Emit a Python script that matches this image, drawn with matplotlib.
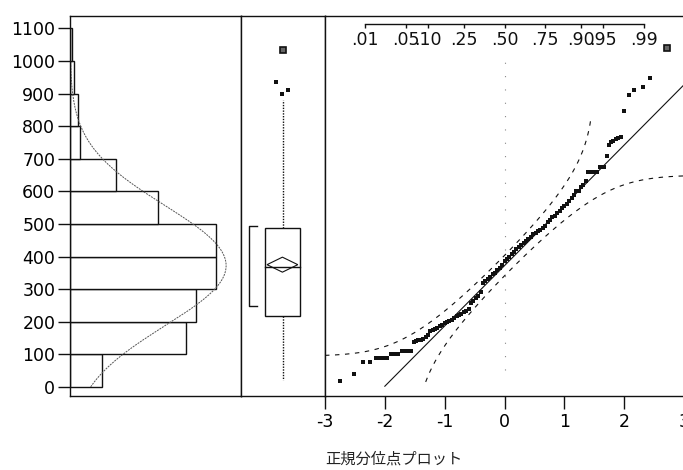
import numpy as np
import matplotlib
matplotlib.use('Agg')
import matplotlib.pyplot as plt
from matplotlib.patches import Rectangle, Polygon
from statistics import NormalDist

plt.rcParams['font.family'] = ['DejaVu Sans', 'Noto Sans CJK JP']
plt.rcParams['axes.unicode_minus'] = False

#histogram bins and counts
bin_edges = [0, 100, 200, 300, 400, 500, 600, 700, 800, 900, 1000, 1100]
bin_counts = [16, 58, 63, 73, 73, 44, 23, 5, 4, 2, 1]

#normal fit and confidence band width (probability scale)
fit_mean = 372
fit_sd = 185
band_d = 0.067

#outlier box plot summary
box_q1 = 218
box_median = 368
box_q3 = 488
whisker_low = 22
whisker_high = 880
mean_diamond = [352, 375, 398]
shortest_half = [248, 494]
box_outliers = [935, 912, 900]
box_far_outliers = [1034]

#normal quantile plot points (normal quantile, value)
qq_z = [-2.75, -2.51, -2.36, -2.25,
        -2.15, -2.11, -2.07, -2.03, -1.99, -1.96,
        -1.90, -1.86, -1.82, -1.78,
        -1.71, -1.68, -1.65, -1.62, -1.59, -1.56,
        -1.52, -1.48, -1.44, -1.40, -1.36, -1.32, -1.28, -1.24, -1.20, -1.16,
        -1.12, -1.08, -1.04, -1.00, -0.96, -0.92, -0.88, -0.84, -0.80, -0.76,
        -0.72, -0.68, -0.64, -0.60, -0.56, -0.52, -0.48, -0.44, -0.40, -0.36,
        -0.32, -0.28, -0.24, -0.20, -0.16, -0.12, -0.08, -0.04, 0.00, 0.04,
        0.08, 0.12, 0.16, 0.20, 0.24, 0.28, 0.32, 0.36, 0.40, 0.44,
        0.48, 0.52, 0.56, 0.60, 0.64, 0.68, 0.72, 0.76, 0.80, 0.84,
        0.88, 0.92, 0.96, 1.00, 1.04, 1.08, 1.12, 1.16, 1.20, 1.24,
        1.28, 1.32, 1.36,
        1.39, 1.43, 1.47, 1.51, 1.55,
        1.59, 1.63, 1.67,
        1.71,
        1.74, 1.78, 1.82, 1.86, 1.90, 1.94,
        1.99, 2.08, 2.16, 2.31, 2.44]
qq_val = [18, 40, 75, 75,
          88, 88, 88, 88, 88, 88,
          100, 100, 100, 100,
          110, 110, 110, 110, 110, 110,
          138, 141, 143, 145, 146, 152, 160, 170, 175, 178,
          182, 188, 190, 195, 198, 202, 205, 212, 216, 220,
          225, 230, 234, 238, 258, 265, 272, 280, 290, 318,
          325, 330, 338, 345, 350, 358, 365, 375, 385, 392,
          400, 408, 415, 422, 428, 435, 442, 448, 455, 460,
          468, 472, 478, 482, 488, 495, 505, 512, 520, 525,
          535, 540, 548, 555, 562, 570, 580, 590, 600, 602,
          612, 620, 632,
          660, 660, 660, 660, 660,
          675, 675, 675,
          708,
          742, 750, 755, 760, 765, 767,
          847, 896, 911, 920, 948]
qq_far_z = [2.71]
qq_far_val = [1040]

#axis ticks
value_ticks = [0, 100, 200, 300, 400, 500, 600, 700, 800, 900, 1000, 1100]
z_ticks = [-3, -2, -1, 0, 1, 2, 3]
prob_ticks = [.01, .05, .10, .25, .50, .75, .90, .95, .99]
prob_labels = ['.01', '.05', '.10', '.25', '.50', '.75', '.90', '.95', '.99']
plot_title = '正規分位点プロット'

W, H = 683, 470
ink = '#111111'


def px_box(x0, y0, x1, y1):
    #axes rectangle in figure fractions from pixel corners
    return [x0 / W, 1 - y1 / H, (x1 - x0) / W, (y1 - y0) / H]


fig = plt.figure(figsize=(W / 100, H / 100), dpi=100)
ylim = (-28, 1138)
nd = NormalDist()
fit = NormalDist(fit_mean, fit_sd)

ax_h = fig.add_axes(px_box(70, 16, 241, 396))
ax_b = fig.add_axes(px_box(241, 16, 325, 396))
ax_q = fig.add_axes(px_box(325, 16, 684, 396))
for ax in (ax_h, ax_b, ax_q):
    ax.set_ylim(*ylim)
    for s in ax.spines.values():
        s.set_color(ink)
        s.set_linewidth(1.0)

#histogram with fitted normal curve
ax_h.barh(bin_edges[:-1], bin_counts, height=100, align='edge',
          color='white', edgecolor=ink, linewidth=1.0)
n_total = sum(bin_counts)
curve_v = np.linspace(0, 1100, 300)
curve_x = [n_total * 100 * fit.pdf(v) for v in curve_v]
ax_h.plot(curve_x, curve_v, color='#555555', lw=0.7, ls=(0, (2, 1)))
ax_h.set_xlim(0, 85.5)
ax_h.set_xticks([])
ax_h.set_yticks(value_ticks)
ax_h.tick_params(axis='y', length=8.6, width=1.0, color=ink, pad=2, labelsize=12.5)

#outlier box plot
ax_b.set_xlim(0, 1)
ax_b.set_xticks([])
ax_b.set_yticks([])
ax_b.add_patch(Rectangle((0.286, box_q1), 0.414, box_q3 - box_q1,
                         fill=False, edgecolor=ink, lw=1.0))
ax_b.plot([0.286, 0.70], [box_median, box_median], color=ink, lw=1.0)
ax_b.add_patch(Polygon([(0.31, mean_diamond[1]), (0.493, mean_diamond[2]),
                        (0.676, mean_diamond[1]), (0.493, mean_diamond[0])],
                       closed=True, fill=False, edgecolor=ink, lw=0.8))
ax_b.plot([0.5, 0.5], [box_q3, whisker_high], color=ink, lw=1.0, ls=(0, (1, 1)))
ax_b.plot([0.5, 0.5], [box_q1, whisker_low], color=ink, lw=1.0, ls=(0, (1, 1)))
ax_b.plot([0.19, 0.095, 0.095, 0.19],
          [shortest_half[1], shortest_half[1], shortest_half[0], shortest_half[0]],
          color=ink, lw=1.0)
ax_b.plot([0.42, 0.56, 0.49], box_outliers, 's', ms=2.4, color=ink, mew=0)
ax_b.plot([0.5], box_far_outliers, 's', ms=5, mfc='#666666', mec=ink, mew=1.2)

#normal quantile plot
ax_q.set_xlim(-3, 3)
ax_q.set_yticks([])
ax_q.set_xticks(z_ticks)
ax_q.tick_params(axis='x', length=9, width=1.0, color=ink, pad=3, labelsize=12.5)
ax_q.spines['right'].set_visible(False)

ax_q.plot([0, 0], [52, 1009], color='#888888', lw=0.8, ls=(0, (1, 11)))

#fitted line
line_z = np.array([-2.0, 3.0])
ax_q.plot(line_z, fit_mean + fit_sd * line_z, color=ink, lw=0.8)

#confidence bands
zz = np.linspace(-3, 3, 600)
upper = []
lower = []
for z in zz:
    p = nd.cdf(z)
    upper.append(fit_mean + fit_sd * nd.inv_cdf(p + band_d) if p + band_d < 1 else np.nan)
    lower.append(fit_mean + fit_sd * nd.inv_cdf(p - band_d) if p - band_d > 0 else np.nan)
upper = np.array(upper)
lower = np.array(lower)
upper[upper > 840] = np.nan
lower[lower < 12] = np.nan
ax_q.plot(zz, upper, color=ink, lw=0.8, ls=(0, (4, 5)))
ax_q.plot(zz, lower, color=ink, lw=0.8, ls=(0, (4, 5)))

ax_q.plot(qq_z, qq_val, 's', ms=2.6, color=ink, mew=0)
ax_q.plot(qq_far_z, qq_far_val, 's', ms=5, mfc='#666666', mec=ink, mew=1.2)

#probability scale along the top
trans = ax_q.get_xaxis_transform()
prob_z = [nd.inv_cdf(p) for p in prob_ticks]
ax_q.plot([prob_z[0], prob_z[-1]], [0.979, 0.979], color=ink, lw=1.0, transform=trans)
ax_q.vlines(prob_z, 0.968, 0.979, color=ink, lw=1.0, transform=trans)
for z, lab in zip(prob_z, prob_labels):
    ax_q.text(z, 0.937, lab, transform=trans, ha='center', va='center', fontsize=12.5, color=ink)

fig.text(325 / W, 1 - 459 / H, plot_title, ha='left', va='center', fontsize=11,
         family=['Noto Sans CJK JP'], color='#222222')

fig.savefig('out.png', dpi=100)
